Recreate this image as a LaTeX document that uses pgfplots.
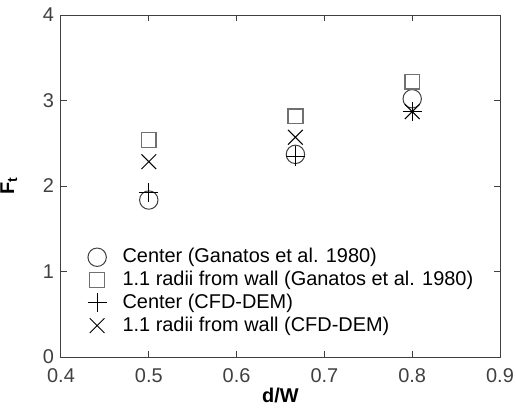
\documentclass[border=0pt]{standalone}
\usepackage{fontspec}
\setmainfont{Liberation Sans}
\usepackage{pgfplots}
\pgfplotsset{compat=1.18}
\definecolor{axgray}{HTML}{404040}
\definecolor{sqgray}{HTML}{707070}
\definecolor{cigray}{HTML}{404040}
\begin{document}
\fontsize{10}{12}\selectfont
\begin{tikzpicture}
\useasboundingbox (-30.5bp,-25.5bp) rectangle (227.5bp,178.5bp);
\begin{axis}[
  scale only axis,
  width=219.5bp, height=171bp,
  xmin=0.4, xmax=0.9, ymin=0, ymax=4,
  xtick={0.4,0.5,...,0.9}, ytick={0,1,2,3,4},
  xticklabels={0.4,0.5,0.6,0.7,0.8,0.9},
  yticklabels={0,1,2,3,4},
  tick align=inside, major tick length=3bp,
  axis line style={axgray, line width=0.5bp},
  tick style={axgray, line width=0.5bp},
  every tick label/.style={font=\fontsize{10}{12}\selectfont, text=axgray},
  xticklabel style={yshift=-2.5bp},
  yticklabel style={xshift=0bp},
  xlabel={\textbf{d/W}},
  ylabel={\textbf{F\textsubscript{t}}},
  xlabel style={font=\fontsize{10}{12}\selectfont, yshift=4.5bp},
  ylabel style={font=\fontsize{10}{12}\selectfont, yshift=6bp},
  legend style={draw=none, fill=none, at={(0.045,0.33)}, anchor=north west,
    font=\fontsize{10}{12}\selectfont, row sep=-1.3bp, inner sep=0pt},
  legend cell align=left,
  legend image code/.code={\path[draw=none] (0bp,-3bp) rectangle (18.7bp,3bp); \draw[#1,overlay] plot coordinates {(8bp,0bp)};},
  clip=false,
]
\addplot[only marks, mark=o, mark size=4.6bp, cigray, line width=0.5bp]
  coordinates {(0.5,1.836) (0.667,2.37) (0.8,3.02)};
\addlegendentry{Center (Ganatos et al. 1980)}
\addplot[only marks, mark=square, mark size=3.7bp, sqgray, line width=0.7bp]
  coordinates {(0.5,2.54) (0.667,2.815) (0.8,3.22)};
\addlegendentry{1.1 radii from wall (Ganatos et al. 1980)}
\addplot[only marks, mark=+, mark size=4.8bp, black, line width=0.5bp]
  coordinates {(0.5,1.92) (0.667,2.35) (0.8,2.87)};
\addlegendentry{Center (CFD-DEM)}
\addplot[only marks, mark=x, mark size=5.2bp, black, line width=0.5bp]
  coordinates {(0.5,2.284) (0.667,2.57) (0.8,2.87)};
\addlegendentry{1.1 radii from wall (CFD-DEM)}
\end{axis}
\end{tikzpicture}
\end{document}
